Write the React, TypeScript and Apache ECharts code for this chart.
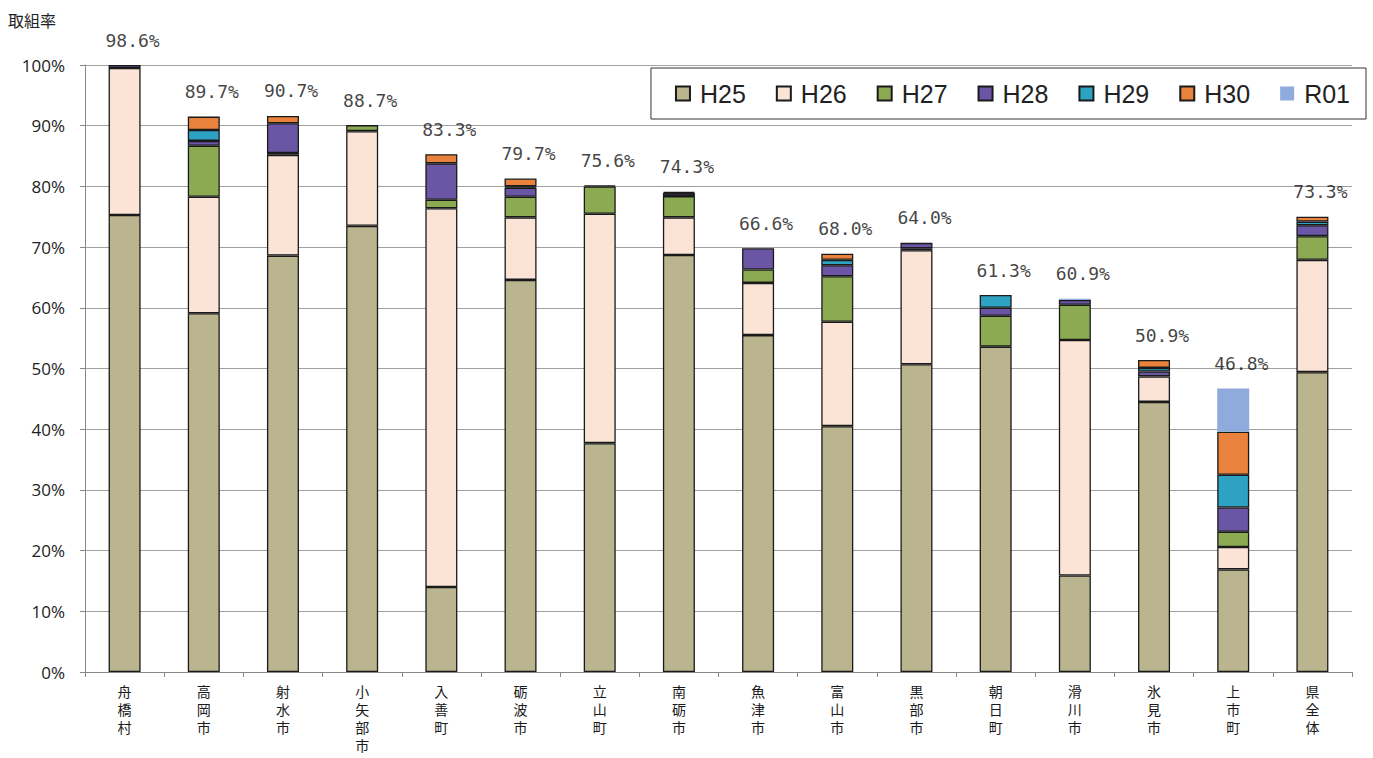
import React, { useEffect, useRef } from "react";
import * as echarts from "echarts";

const categories = ["舟橋村", "高岡市", "射水市", "小矢部市", "入善町", "砺波市", "立山町", "南砺市", "魚津市", "富山市", "黒部市", "朝日町", "滑川市", "氷見市", "上市町", "県全体"];

const H25 = [75.3, 59.1, 68.6, 73.5, 14.0, 64.6, 37.7, 68.7, 55.5, 40.5, 50.7, 53.6, 15.9, 44.5, 16.9, 49.4];
const H26 = [24.2, 19.2, 16.6, 15.6, 62.4, 10.3, 37.8, 6.2, 8.6, 17.2, 18.8, 0, 38.8, 4.2, 3.7, 18.5];
const H27 = [0, 8.4, 0.3, 1.0, 1.4, 3.4, 4.5, 3.5, 2.2, 7.5, 0.3, 5.1, 5.8, 0, 2.5, 3.9];
const H28 = [0.5, 0.8, 4.9, 0, 6.0, 1.5, 0.2, 0.5, 3.5, 1.8, 0.9, 1.3, 0.8, 0.8, 4.0, 1.8];
const H29 = [0, 1.8, 0, 0, 0, 0.2, 0, 0.2, 0, 0.9, 0, 2.1, 0, 0.6, 5.4, 0.6];
const H30 = [0, 2.2, 1.2, 0, 1.5, 1.3, 0, 0, 0, 1.0, 0, 0, 0, 1.3, 7.1, 0.8];
const R01 = [0, 0, 0, 0, 0, 0, 0, 0, 0, 0, 0, 0, 0.2, 0, 7.1, 0];

const rateLabels = ["98.6%", "89.7%", "90.7%", "88.7%", "83.3%", "79.7%", "75.6%", "74.3%", "66.6%", "68.0%", "64.0%", "61.3%", "60.9%", "50.9%", "46.8%", "73.3%"];

const yTicks = [0, 10, 20, 30, 40, 50, 60, 70, 80, 90, 100];

const seriesDefs = [
  { name: "H25", data: H25, color: "#BAB48F", border: true },
  { name: "H26", data: H26, color: "#FBE3D6", border: true },
  { name: "H27", data: H27, color: "#8BAA52", border: true },
  { name: "H28", data: H28, color: "#6A56A4", border: true },
  { name: "H29", data: H29, color: "#2EA2C2", border: true },
  { name: "H30", data: H30, color: "#E8823C", border: true },
  { name: "R01", data: R01, color: "#8FAADC", border: false },
];

export default function App() {
  const ref = useRef<HTMLDivElement>(null);
  useEffect(() => {
    if (!ref.current) return;
    const chart = echarts.init(ref.current, null, { renderer: "svg" });
    const totals = categories.map((_, i) =>
      seriesDefs.reduce((s, d) => s + d.data[i], 0)
    );
    const bars = seriesDefs.map((d) => ({
      name: d.name,
      type: "bar",
      stack: "total",
      barWidth: 32,
      data: d.data.map((v) => (v === 0 ? null : v)),
      itemStyle: {
        color: d.color,
        borderColor: d.border ? "#1a1a1a" : d.color,
        borderWidth: d.border ? 1.3 : 0,
      },
    }));
    chart.setOption({
      animation: false,
      backgroundColor: "#fff",
      grid: { left: 85, right: 21, top: 65, bottom: 86, outerBoundsMode: "none", containLabel: false },
      graphic: [
        {
          type: "text",
          left: 8,
          top: 12,
          style: { text: "取組率", fontSize: 16, fill: "#222", fontFamily: "Noto Sans CJK JP" },
        },
      ],
      legend: {
        data: seriesDefs.map((d) => d.name),
        top: 68,
        right: 7,
        orient: "horizontal",
        icon: "rect",
        itemWidth: 14,
        itemHeight: 14,
        itemGap: 30,
        padding: [13, 16, 13, 24],
        borderColor: "#333",
        borderWidth: 1,
        backgroundColor: "#fff",
        textStyle: { fontSize: 25, color: "#222", fontFamily: "Liberation Sans", padding: [0, 0, 0, 5] },
      },
      xAxis: {
        type: "category",
        data: categories,
        axisLine: { lineStyle: { color: "#888" } },
        axisTick: { show: true, interval: 0, length: 5, lineStyle: { color: "#888" } },
        axisLabel: {
          interval: 0,
          margin: 10,
          fontSize: 14,
          lineHeight: 18,
          color: "#1a1a1a",
          fontFamily: "Noto Sans CJK JP",
          verticalAlign: "top",
          formatter: (v: string) => v.split("").join("\n"),
        },
      },
      yAxis: {
        type: "value",
        min: 0,
        max: 100,
        interval: 10,
        axisLine: { show: true, lineStyle: { color: "#888" } },
        axisTick: { show: true, length: 5, inside: false, lineStyle: { color: "#888" } },
        splitLine: { lineStyle: { color: "#a0a0a0", width: 1 } },
        axisLabel: {
          margin: 20,
          fontSize: 17,
          color: "#222",
          fontFamily: "Open Sans",
          formatter: (v: number) => (yTicks.includes(v) ? v + "%" : ""),
        },
      },
      series: [
        ...bars,
        {
          name: "rate",
          type: "scatter",
          symbolSize: 0,
          data: totals,
          silent: true,
          label: {
            show: true,
            position: "top",
            distance: 16,
            offset: [8, 0],
            fontSize: 18,
            color: "#111",
            fontFamily: "DejaVu Sans Mono",
            formatter: (p: any) => rateLabels[p.dataIndex],
          },
        },
      ],
    });
    return () => chart.dispose();
  }, []);
  return (
    <div
      ref={ref}
      style={{ position: "fixed", left: 0, top: 0, width: 1373, height: 758 }}
    />
  );
}
